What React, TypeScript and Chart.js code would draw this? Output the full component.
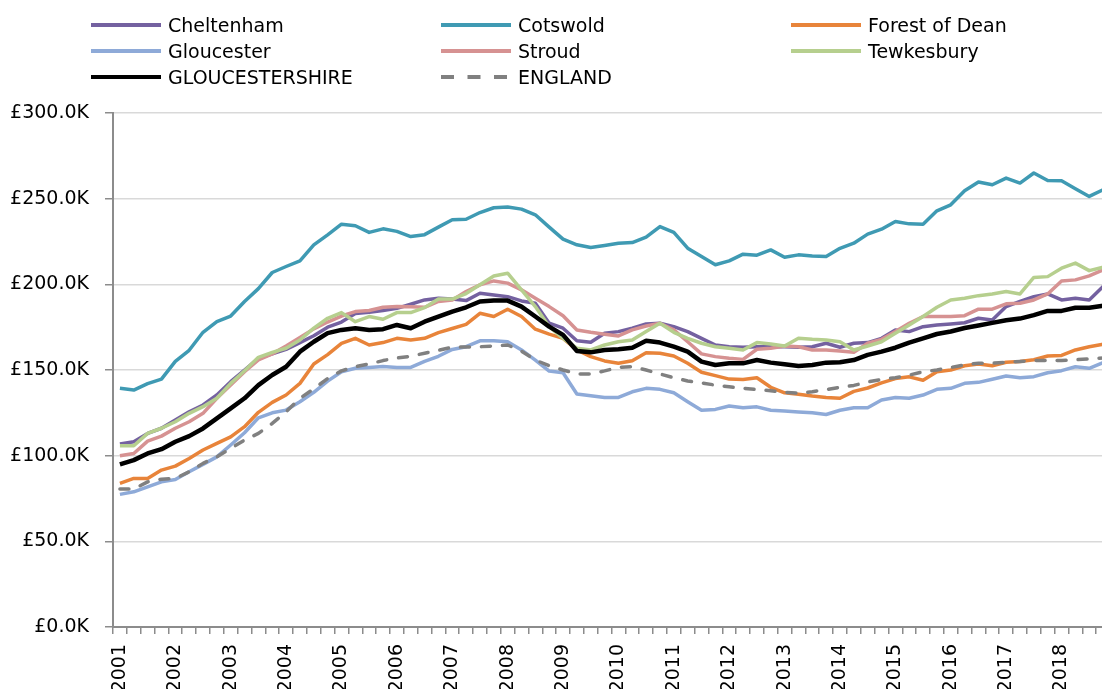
import React, { useEffect, useRef } from "react";
import { Chart, registerables } from "chart.js";

Chart.register(...registerables);

const yearLabels = ["2001","2002","2003","2004","2005","2006","2007","2008","2009","2010","2011","2012","2013","2014","2015","2016","2017","2018"];
const quarterNames = ["Q1","Q2","Q3","Q4"];
const categories = yearLabels.flatMap((y) => quarterNames.map((q) => `${y} ${q}`));

const cheltenham = [106.8,108.1,113,116,120.8,125.6,129.6,135.4,143.2,150,156.8,159.4,162,166,170,175,178,183,183.7,184.7,186,188.4,190.9,191.9,191.5,190.5,194.8,193.8,192.8,190.3,189,177.3,174.4,167.1,166.2,171.5,172.4,174.4,176.9,177.3,175.3,172.4,168.5,164.6,163.6,163.3,163.6,163.6,163.6,163.3,163.6,165.6,163.3,165.6,166,168.5,173.4,172.4,175.3,176.3,176.9,177.6,180.2,179.2,187,190,192.8,194.4,190.9,191.9,190.9,198.7];
const cotswold = [139.3,138.3,142,144.7,155,161.5,172,178.3,181.5,190,197.5,206.9,210.4,213.7,223,228.9,235.1,234.2,230.3,232.4,230.9,227.9,229,233.4,237.7,238,241.9,244.7,245.1,243.9,240.6,233.4,226.4,223.1,221.5,222.7,224,224.4,227.5,233.7,230.3,221.1,216.2,211.4,213.7,217.6,217,220.1,215.8,217.2,216.6,216.2,221,224,229.3,232.2,236.7,235.3,235.1,242.9,246.4,254.6,259.7,258.1,262,259.1,265,260.6,260.4,255.8,251.3,255.2];
const forestOfDean = [83.8,86.7,86.7,91.6,93.9,98.4,103.3,107.2,111,116.9,125.3,131.1,135.4,142.2,153.5,159,165.5,168.5,164.6,166,168.5,167.5,168.5,171.8,174.2,176.6,183.1,181.2,185.5,181.2,173.8,170.9,168.5,161.7,157.8,155.3,153.9,155.4,160.1,159.8,158.2,153.9,148.7,146.7,144.7,144.5,145.5,139.9,136.7,135.8,134.8,134,133.5,137.5,139.5,142.5,145,146,144,149,150,152.5,153.5,152.5,154.5,155,156,158.2,158.5,161.7,163.6,165];
const gloucester = [77.4,78.9,81.8,84.7,86.1,90.6,94.9,99.3,106.2,113.4,122.1,125,126.6,131.5,137,143.5,149,151,151.5,152,151.5,151.5,155,158,162,163.6,167,167.1,166.5,161.7,155.8,149.4,148.4,136,135,134,134,137.3,139.3,138.7,136.7,131.5,126.5,127,129,128,128.5,126.5,126,125.5,125,124,126.5,128,128,132.5,134,133.5,135.4,138.7,139.3,142.2,142.8,144.6,146.5,145.5,146.1,148.4,149.6,151.9,151,154.3];
const stroud = [99.9,101.3,108.5,111.4,116,119.8,124.7,133.5,141.2,149,155.9,159.4,164,169,174,178,181.5,184.1,184.7,186.6,187,186.9,186.6,190,190.9,195.8,199.7,202,200.7,196.8,191.9,187,181.7,173.4,172,170.9,169.9,173.4,175.7,177.3,173.4,166.5,159.4,157.8,156.8,156.2,162.1,162.7,164,163.6,161.7,161.7,161.1,160.3,165.6,167.9,172.4,177.3,181.2,181.2,181.2,181.7,185.5,185.5,188.6,189,190.9,194.4,202,202.6,204.9,208.4];
const tewkesbury = [105.8,105.8,113,116,119.8,124.7,128.6,133.5,142.2,149.6,157.4,160.3,162.7,167.5,174.4,180.2,183.5,178.2,181.2,179.6,183.5,183.5,186.4,191.5,191.4,194.6,199.7,204.9,206.5,196.8,187,175.3,168.5,162.7,161.7,164.6,166.5,167.5,172.4,177.3,172,168.5,165.6,163.6,162.7,161.7,166,165.2,164,168.5,167.9,167.5,166.5,161.7,164,166.5,171.5,176.3,181.2,186.6,190.9,191.9,193.4,194.4,195.8,194.4,204,204.5,209.4,212.4,208,210];
const gloucestershire = [94.9,97.4,101.3,103.8,108.1,111.4,115.9,121.8,127.6,133.5,141.2,147.1,151.9,160.7,166.5,171.5,173.4,174.4,173.4,173.8,176.3,174.4,178.2,181.2,184.1,186.6,190,190.6,190.5,187,181.2,175.3,170.5,161.1,160.3,161.7,162.1,163,167.1,166,163.6,160.7,154.9,152.9,153.9,153.9,155.8,154.3,153.3,152.3,152.9,154.3,154.5,155.8,158.8,160.7,163,166,168.5,171,172.5,174.5,176,177.5,179,180,182,184.5,184.5,186.3,186.3,187.5];
const england = [80.5,80.5,84.7,86.3,86.7,90.6,95.5,99.3,104.2,109.1,113,118.8,125.6,133.5,139,145,149.5,151.9,153.5,155.5,157,158,159.8,161.5,163.3,163.4,163.6,164,164.6,161,155.8,152.5,150,147.7,147.7,149.5,151.5,151.9,150,147.7,145.5,143.6,142.4,141.2,140.2,139.3,138.6,137.9,137,136.4,137.3,138.5,139.9,141,143,144.5,145.5,147,149,150,151.5,153,154,154,154.5,155,155.5,155.5,155.5,156,156.5,157];

const seriesNames = ["Cheltenham","Cotswold","Forest of Dean","Gloucester","Stroud","Tewkesbury","GLOUCESTERSHIRE","ENGLAND"];
const seriesValues = [cheltenham, cotswold, forestOfDean, gloucester, stroud, tewkesbury, gloucestershire, england];
const seriesColors = ["#7461a0","#3f9ab3","#e8843a","#8eaad8","#d69292","#b6cf8e","#000000","#808080"];

const FONT = "'DejaVu Sans', sans-serif";

const legendPlugin = {
  id: "gridLegend",
  afterDraw(chart: any) {
    const ctx = chart.ctx;
    const colX = [91, 441, 791];
    ctx.save();
    chart.data.datasets.forEach((ds: any, i: number) => {
      const col = i % 3;
      const row = Math.floor(i / 3);
      const x0 = colX[col];
      const yl = 25 + 26 * row;
      ctx.beginPath();
      ctx.strokeStyle = ds.borderColor;
      ctx.lineWidth = 4;
      ctx.lineCap = "butt";
      if (ds.borderDash && ds.borderDash.length) ctx.setLineDash([13, 13.5]);
      else ctx.setLineDash([]);
      ctx.moveTo(x0, yl);
      ctx.lineTo(x0 + 70, yl);
      ctx.stroke();
      ctx.setLineDash([]);
      ctx.fillStyle = "#000";
      ctx.font = `19px ${FONT}`;
      ctx.textAlign = "left";
      ctx.textBaseline = "alphabetic";
      ctx.fillText(ds.label, x0 + 77, yl + 7.3);
    });
    ctx.restore();
  },
};

export default function App() {
  const ref = useRef<HTMLCanvasElement | null>(null);
  useEffect(() => {
    if (!ref.current) return;
    const datasets = seriesNames.map((name, i) => ({
      label: name,
      data: seriesValues[i],
      borderColor: seriesColors[i],
      backgroundColor: seriesColors[i],
      borderWidth: name === "GLOUCESTERSHIRE" ? 4.5 : 3.5,
      borderDash: name === "ENGLAND" ? [9, 12] : [],
      borderCapStyle: name === "ENGLAND" ? "round" : "butt",
      borderJoinStyle: "round",
      pointRadius: 0,
      tension: 0,
      fill: false,
      order: seriesNames.length - i,
    }));
    const chart = new Chart(ref.current, {
      type: "line",
      data: { labels: categories, datasets: datasets as any },
      options: {
        animation: false,
        responsive: false,
        devicePixelRatio: 1,
        layout: { padding: { top: 113, left: 0, right: 0, bottom: 0 } },
        plugins: { legend: { display: false }, tooltip: { enabled: false } },
        scales: {
          x: {
            type: "category",
            offset: true,
            grid: {
              offset: true,
              drawOnChartArea: false,
              drawTicks: true,
              tickLength: 7,
              tickColor: "#8c8c8c",
              lineWidth: 1.5,
            },
            border: { display: true, color: "#8c8c8c", width: 2 },
            ticks: {
              autoSkip: false,
              minRotation: 90,
              maxRotation: 90,
              padding: 10,
              color: "#000",
              font: { family: FONT, size: 19 },
              callback: function (this: any, val: any) {
                const lab = String(this.getLabelForValue(val));
                return lab.endsWith("Q1") ? lab.slice(0, 4) : "";
              },
            },
            afterFit: (scale: any) => {
              scale.height = 62;
              scale.paddingLeft = 0;
              scale.paddingRight = 0;
            },
          },
          y: {
            min: 0,
            max: 300,
            grid: {
              color: "#d9d9d9",
              lineWidth: 1.5,
              tickColor: "#8c8c8c",
              tickLength: 8,
            },
            border: { display: true, color: "#8c8c8c", width: 2 },
            ticks: {
              stepSize: 50,
              padding: 16,
              color: "#000",
              font: { family: FONT, size: 19 },
              callback: (v: any) => `£${Number(v).toFixed(1)}K`,
            },
            afterFit: (scale: any) => {
              scale.width = 113;
            },
          },
        },
      },
      plugins: [legendPlugin],
    });
    return () => chart.destroy();
  }, []);
  return (
    <div style={{ position: "fixed", left: 0, top: 0, width: 1102, height: 689, overflow: "hidden", background: "#fff" }}>
      <canvas ref={ref} width={1110} height={689} style={{ display: "block", width: 1110, height: 689 }} />
    </div>
  );
}
